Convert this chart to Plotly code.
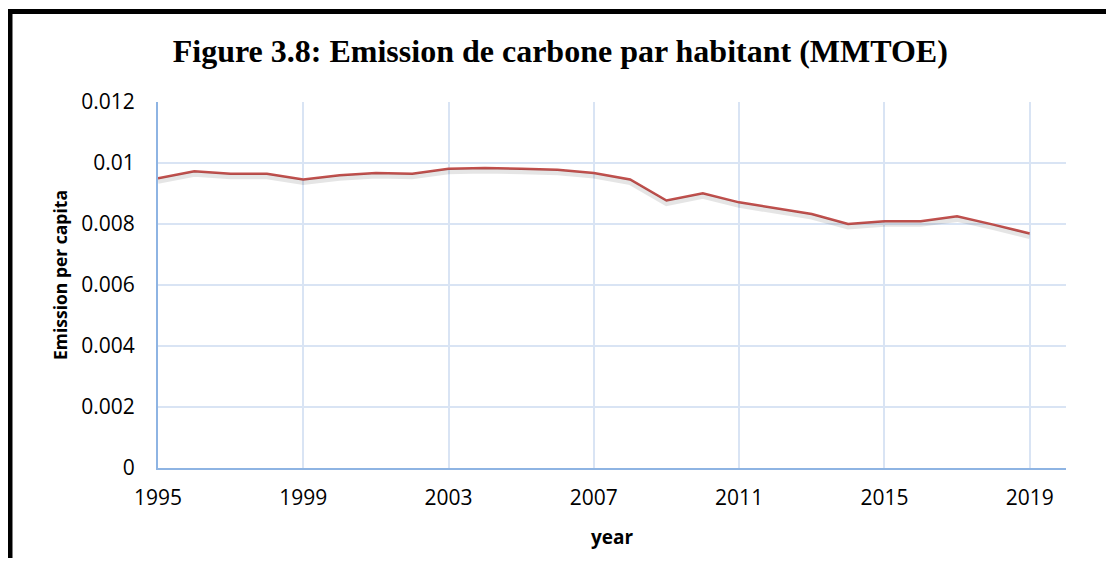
import plotly.graph_objects as go

# Emission per capita
years = list(range(1995, 2020))
emission = [0.00950, 0.00973, 0.00965, 0.00965, 0.00946, 0.00960, 0.00967, 0.00965,
            0.00981, 0.00984, 0.00981, 0.00978, 0.00967, 0.00946, 0.00877, 0.00901,
            0.00871, 0.00853, 0.00833, 0.00800, 0.00809, 0.00809, 0.00825, 0.00798,
            0.00769]
year_ticks = [1995, 1999, 2003, 2007, 2011, 2015, 2019]
y_ticks = [0, 0.002, 0.004, 0.006, 0.008, 0.01, 0.012]
y_tick_text = ["0", "0.002", "0.004", "0.006", "0.008", "0.01", "0.012"]

grid = "#d9e4f4"
axis_col = "#8eb4e3"
tick_font = dict(family="Open Sans", size=21, color="#000000")

fig = go.Figure()

# soft shadow under the line (same data on a slightly shifted axis)
fig.add_trace(go.Scatter(x=years, y=emission, mode="lines", yaxis="y2",
                         line=dict(color="rgba(0,0,0,0.10)", width=5),
                         hoverinfo="skip", showlegend=False))
fig.add_trace(go.Scatter(x=years, y=emission, mode="lines",
                         line=dict(color="#c0504d", width=2.5),
                         showlegend=False))

# frame: only the left and top edges fall inside the picture
frame = dict(color="black", width=5)

# page body has an 8px margin, so the figure is smaller to avoid scrollbars
fig.update_layout(
    width=1098, height=550,
    margin=dict(l=150, r=40, t=94, b=90),
    paper_bgcolor="white", plot_bgcolor="white",
    title=dict(text="<b>Figure 3.8: Emission de carbone par habitant (MMTOE)</b>",
               x=0.503, xanchor="center", y=1 - 43 / 550, yref="container",
               yanchor="middle",
               font=dict(family="Liberation Serif", size=32, color="#000000")),
    xaxis=dict(range=[1995, 2020], tickvals=year_ticks, showgrid=True,
               gridcolor=grid, gridwidth=1.5, zeroline=False,
               showline=True, linecolor=axis_col, linewidth=2,
               ticks="outside", ticklen=10, tickcolor="rgba(0,0,0,0)",
               tickfont=tick_font,
               title=dict(text="<b>year</b>", standoff=20,
                          font=dict(family="Open Sans", size=19, color="#000000"))),
    yaxis=dict(range=[0, 0.012], tickvals=y_ticks, ticktext=y_tick_text,
               showgrid=True, gridcolor=grid, gridwidth=1.5, zeroline=False,
               showline=True, linecolor=axis_col, linewidth=2,
               ticks="outside", ticklen=17, tickcolor="rgba(0,0,0,0)",
               tickfont=tick_font),
    yaxis2=dict(range=[0.0001, 0.0121], overlaying="y", visible=False),
    annotations=[dict(text="<b>Emission per capita</b>", textangle=-90,
                      xref="paper", yref="paper", x=-0.108, y=0.527,
                      xanchor="center", yanchor="middle", showarrow=False,
                      font=dict(family="Open Sans", size=17.5, color="#000000"))],
    shapes=[
        dict(type="line", xref="paper", yref="paper",
             x0=-0.163, x1=-0.163, y0=-0.5, y1=1.253, line=frame, layer="above"),
        dict(type="line", xref="paper", yref="paper",
             x0=-0.166, x1=1.2, y0=1.247, y1=1.247, line=frame, layer="above"),
    ],
)

fig.write_html("out.html")
